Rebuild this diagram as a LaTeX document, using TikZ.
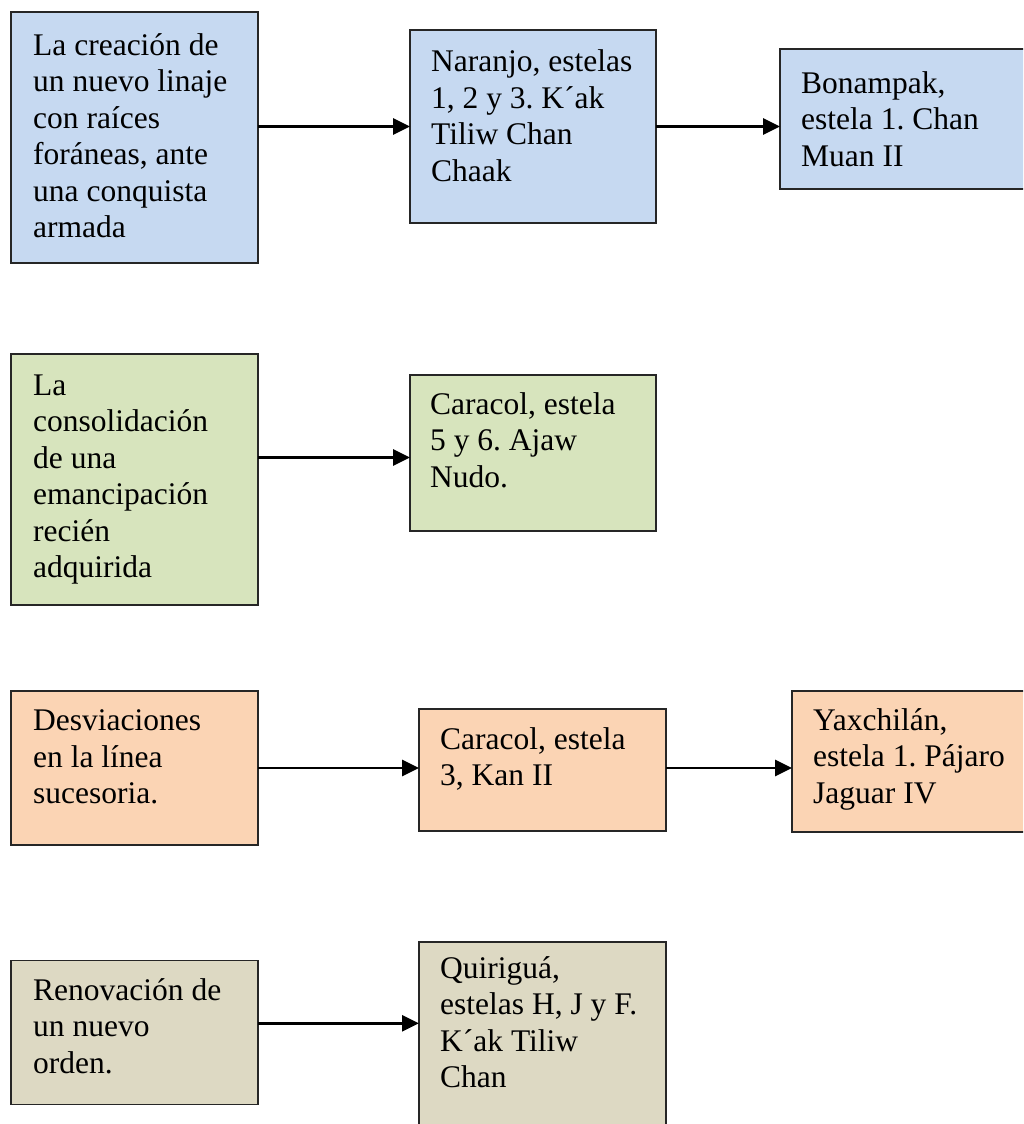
\documentclass[tikz,border=0pt]{standalone}
\usepackage{fontspec}
\setmainfont{Liberation Serif}
\newfontfamily\tnrfont{Liberation Serif}
\usetikzlibrary{arrows.meta}
\definecolor{cblue}{HTML}{C6D9F1}
\definecolor{cgreen}{HTML}{D7E4BD}
\definecolor{corange}{HTML}{FBD4B4}
\definecolor{ctan}{HTML}{DDD9C3}
\frenchspacing
\begin{document}
\begin{tikzpicture}[x=1pt,y=-1pt,
  box/.style={draw=black!85, line width=1.5pt, anchor=north west, inner sep=0pt, outer sep=0pt},
  txt/.style={anchor=base west, align=left, inner sep=0pt, font=\tnrfont\frenchspacing\fontsize{31.5}{36.5}\selectfont},
  conn/.style={line width=2.7pt, -{Triangle[length=17pt,width=16pt]}}]
\clip (0,0) rectangle (1023,1124);
\fill[white] (0,0) rectangle (1023,1124);
% Row 1
\node[box, fill=cblue, minimum width=247pt, minimum height=251pt] (A1) at (11,12) {};
\node[box, fill=cblue, minimum width=246pt, minimum height=193pt] (A2) at (410,30) {};
\node[box, fill=cblue, minimum width=270pt, minimum height=140pt] (A3) at (780,49) {};
\node[txt] (A1t) at (33,237.5) {La creación de\\un nuevo linaje\\con raíces\\foráneas, ante\\una conquista\\armada};
\node[txt] (A2t) at (431,181.2) {Naranjo, estelas\\1, 2 y 3. K´ak\\Tiliw Chan\\Chaak};
\node[txt] (A3t) at (801,166) {Bonampak,\\estela 1. Chan\\Muan II};
\draw[conn] (A1.east |- A2.west) -- (A2.west);
\draw[conn] (A2.east) -- (A3.west |- A2.east);
% Row 2
\node[box, fill=cgreen, minimum width=247pt, minimum height=251pt] (B1) at (11,354) {};
\node[box, fill=cgreen, minimum width=246pt, minimum height=156pt] (B2) at (410,375) {};
\node[txt] (B1t) at (33,577.5) {La\\consolidación\\de una\\emancipación\\recién\\adquirida};
\node[txt] (B2t) at (430,487.3) {Caracol, estela\\5 y 6. Ajaw\\Nudo.};
\coordinate (B1o) at (258,457.5);
\draw[conn] (B1o) -- (B2.west |- B1o);
% Row 3
\node[box, fill=corange, minimum width=247pt, minimum height=154pt] (C1) at (11,691) {};
\node[box, fill=corange, minimum width=247pt, minimum height=122pt] (C2) at (419,709) {};
\node[box, fill=corange, minimum width=260pt, minimum height=141pt] (C3) at (792,691) {};
\node[txt] (C1t) at (33,803.7) {Desviaciones\\en la línea\\sucesoria.};
\node[txt] (C2t) at (440,785.8) {Caracol, estela\\3, Kan II};
\node[txt] (C3t) at (813,803) {Yaxchilán,\\estela 1. Pájaro\\Jaguar IV};
\draw[conn] (C1.east) -- (C2.west |- C1.east);
\draw[conn] (C2.east |- C1.east) -- (C3.west |- C1.east);
% Row 4
\node[box, fill=ctan, minimum width=247pt, minimum height=144pt] (D1) at (11,960.5) {};
\node[box, fill=ctan, minimum width=247pt, minimum height=200pt] (D2) at (419,942) {};
\node[txt] (D1t) at (33,1073) {Renovación de\\un nuevo\\orden.};
\node[txt] (D2t) at (440,1087.5) {Quiriguá,\\estelas H, J y F.\\K´ak Tiliw\\Chan};
\coordinate (D1o) at (258,1023.3);
\draw[conn] (D1o) -- (D2.west |- D1o);
\end{tikzpicture}
\end{document}
